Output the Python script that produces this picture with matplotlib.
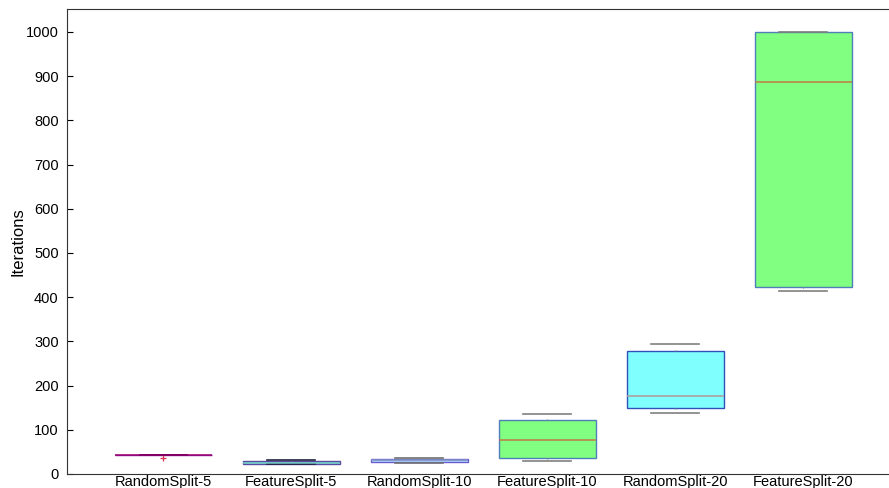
import matplotlib.pyplot as plt

plt.rcParams['font.family'] = ['Liberation Sans', 'DejaVu Sans']

# box statistics per split setting
labels = ["RandomSplit-5", "FeatureSplit-5", "RandomSplit-10",
          "FeatureSplit-10", "RandomSplit-20", "FeatureSplit-20"]
q1 = [42, 23, 27, 36, 149, 423]
median = [42, 26, 31, 77, 176, 887]
q3 = [43, 29, 34, 122, 278, 1000]
whislo = [42, 22, 25, 29, 138, 414]
whishi = [43, 32, 37, 136, 294, 1000]
fliers = [[36], [], [], [], [], []]

face_colors = ["#d080ff", "#80e0e0", "#b0e0ff", "#80ff80", "#80ffff", "#80ff80"]
edge_colors = ["#8a1aa8", "#5a4aa0", "#6a5ad0", "#4f7fb8", "#3050b8", "#4f7fb8"]
median_colors = ["#9a0070", "#70c0c0", "#8090c0", "#c07a48", "#b09a9a", "#c07a48"]
cap_colors = ["#300040", "#202040", "#707070", "#808080", "#808080", "#808080"]

stats = []
for i in range(len(labels)):
    stats.append(dict(label=labels[i], q1=q1[i], med=median[i], q3=q3[i],
                      whislo=whislo[i], whishi=whishi[i], fliers=fliers[i]))

fig = plt.figure(figsize=(8.89, 4.88), dpi=100, facecolor="white")
ax = fig.add_axes([0.0754, 0.0287, 1.02 - 0.0754, 0.9529])

bp = ax.bxp(stats, positions=range(1, 7), widths=0.76, capwidths=0.375,
            patch_artist=True, showfliers=True,
            whiskerprops=dict(color="#909090", lw=0.8, linestyle=(0, (1, 8))),
            capprops=dict(color="#808080", lw=1.2),
            flierprops=dict(marker="+", markeredgecolor="#e03050",
                            markersize=5, markeredgewidth=0.9))

for i, box in enumerate(bp["boxes"]):
    box.set_facecolor(face_colors[i])
    box.set_edgecolor(edge_colors[i])
    box.set_linewidth(1.0)
for i, med in enumerate(bp["medians"]):
    med.set_color(median_colors[i])
    med.set_linewidth(1.1)
for i in range(len(labels)):
    for cap in bp["caps"][2 * i:2 * i + 2]:
        cap.set_color(cap_colors[i])

ax.set_xlim(0.246, 6.81)
ax.set_ylim(0, 1052)
ax.set_yticks(range(0, 1001, 100))
ax.set_xticks(range(1, 7))
ax.set_xticklabels(labels)
ax.tick_params(axis="y", direction="in", length=4, labelsize=10.5, pad=6)
ax.tick_params(axis="x", length=0, labelsize=10.5, pad=1)
ax.set_ylabel("Iterations", fontsize=12, labelpad=0)

for spine in ax.spines.values():
    spine.set_linewidth(0.8)
    spine.set_color("#333333")

fig.savefig("out.png", dpi=100, facecolor="white")
